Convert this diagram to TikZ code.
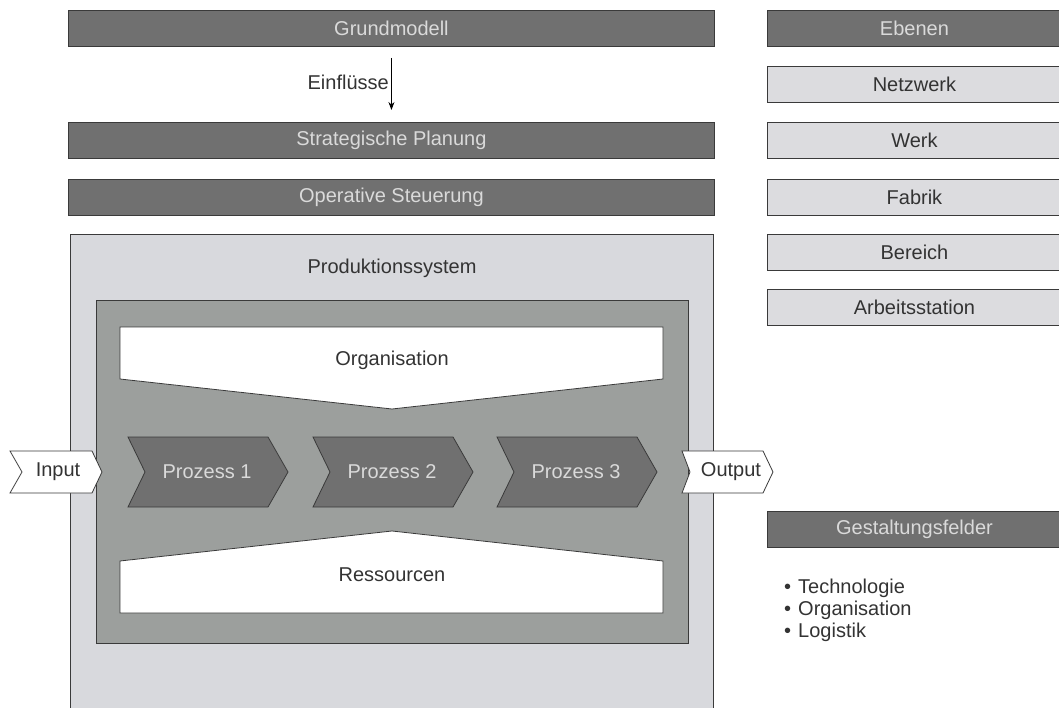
\documentclass[tikz,border=0pt]{standalone}
\usepackage{fontspec}
\setmainfont{Liberation Sans}
\usetikzlibrary{arrows.meta}
\definecolor{darkbar}{HTML}{707070}
\definecolor{lightbar}{HTML}{DCDCDF}
\definecolor{syslight}{HTML}{D8D9DD}
\definecolor{sysdark}{HTML}{9C9F9D}
\definecolor{edge}{HTML}{3A3A3A}
\definecolor{txtlight}{HTML}{DADADA}
\definecolor{txtdark}{HTML}{333333}
\begin{document}
\begin{tikzpicture}[x=1pt,y=-1pt,
  font=\fontsize{20}{22}\selectfont,
  darkbox/.style={draw=edge, fill=darkbar, text=txtlight, line width=0.9pt, minimum height=36pt, inner sep=0pt, anchor=north west},
  lightbox/.style={draw=edge, fill=lightbar, text=txtdark, line width=0.9pt, minimum height=36pt, inner sep=0pt, anchor=north west},
  shapeline/.style={draw=edge, line width=0.8pt},
  lbl/.style={text=txtdark, inner sep=0pt},
  lbllight/.style={text=txtlight, inner sep=0pt}]
\useasboundingbox (0,0) rectangle (1059,708);

% left column bars
\node[darkbox, minimum width=646pt] (grund) at (68,10) {Grundmodell};
\node[darkbox, minimum width=646pt] (strat) at (68,122) {Strategische Planung};
\node[darkbox, minimum width=646pt] (oper) at (68,179) {Operative Steuerung};
\draw[-{Stealth[length=8pt,width=6pt]}, line width=0.8pt, black, shorten <=11pt, shorten >=12pt] (grund.south) -- (strat.north);
\node[lbl, anchor=east] (einfl) at (389,82) {Einflüsse};

% production system
\draw[shapeline, fill=syslight] (70,234) rectangle (713,730);
\node[lbl] (prodsys) at (392,268) {Produktionssystem};
\draw[shapeline, fill=sysdark] (96,300) rectangle (688,643);

% Organisation
\draw[shapeline, fill=white] (120,327) -- (663,327) -- (663,379) -- (392,409) -- (120,379) -- cycle;
\node[lbl] (org) at (392,360) {Organisation};

% Ressourcen
\draw[shapeline, fill=white] (120,613) -- (663,613) -- (663,561) -- (392,531) -- (120,561) -- cycle;
\node[lbl] (res) at (392,575) {Ressourcen};

% processes
\foreach \i/\x in {1/128,2/313,3/497}{
  \draw[shapeline, fill=darkbar] (\x,437) -- ({\x+140},437) -- ({\x+160},472) -- ({\x+140},507) -- (\x,507) -- ({\x+17},472) -- cycle;
  \node[lbllight] (p\i) at ({\x+79},472) {Prozess \i};
}

% input / output
\draw[shapeline, fill=white] (10,451) -- (92,451) -- (102,472) -- (92,493) -- (10,493) -- (22,472) -- cycle;
\node[lbl] (input) at (58,472) {Input};
\draw[shapeline, fill=white] (682,451) -- (763,451) -- (773,472) -- (763,493) -- (682,493) -- (690,472) -- cycle;
\node[lbl] (output) at (731,472) {Output};

% right column
\node[darkbox, minimum width=294pt] (ebenen) at (767,10) {Ebenen};
\node[lightbox, minimum width=294pt] (netz) at (767,66) {Netzwerk};
\node[lightbox, minimum width=294pt] (werk) at (767,122) {Werk};
\node[lightbox, minimum width=294pt] (fabrik) at (767,179) {Fabrik};
\node[lightbox, minimum width=294pt] (bereich) at (767,234) {Bereich};
\node[lightbox, minimum width=294pt] (arbeit) at (767,289) {Arbeitsstation};
\node[darkbox, minimum width=294pt] (gest) at (767,511) {Gestaltungsfelder};

\node[lbl, anchor=base west] (b1) at (784,593) {•\hspace{7pt}Technologie};
\node[lbl, anchor=base west] (b2) at (784,615) {•\hspace{7pt}Organisation};
\node[lbl, anchor=base west] (b3) at (784,637) {•\hspace{7pt}Logistik};
\end{tikzpicture}
\end{document}
